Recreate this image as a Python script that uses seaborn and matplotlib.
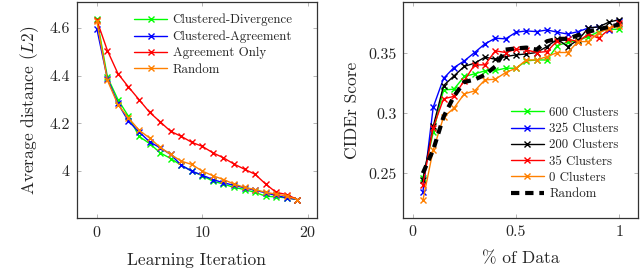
import matplotlib
matplotlib.use("Agg")
import matplotlib.pyplot as plt
import seaborn as sns
import numpy as np

# ---- left panel: average distance per learning iteration ----
iterations = list(range(20))
clustered_divergence = [4.639, 4.394, 4.299, 4.229, 4.145, 4.115, 4.076, 4.052, 4.024, 3.999,
                        3.980, 3.957, 3.945, 3.931, 3.922, 3.910, 3.894, 3.891, 3.887, 3.880]
clustered_agreement = [4.596, 4.387, 4.283, 4.208, 4.164, 4.122, 4.097, 4.069, 4.024, 3.999,
                       3.982, 3.964, 3.950, 3.940, 3.929, 3.919, 3.908, 3.897, 3.887, 3.880]
agreement_only = [4.632, 4.505, 4.408, 4.352, 4.299, 4.246, 4.206, 4.166, 4.145, 4.120,
                  4.103, 4.076, 4.055, 4.029, 4.007, 3.986, 3.945, 3.910, 3.901, 3.880]
random_left = [4.628, 4.380, 4.278, 4.222, 4.171, 4.138, 4.099, 4.069, 4.041, 4.027,
               3.999, 3.980, 3.964, 3.945, 3.931, 3.922, 3.910, 3.903, 3.894, 3.880]

# ---- right panel: CIDEr vs fraction of data ----
data_frac = [0.05, 0.10, 0.15, 0.20, 0.25, 0.30, 0.35, 0.40, 0.45, 0.50,
             0.55, 0.60, 0.65, 0.70, 0.75, 0.80, 0.85, 0.90, 0.95, 1.00]
clusters_600 = [0.2458, 0.2839, 0.3194, 0.3200, 0.3306, 0.3328, 0.3353, 0.3356, 0.3375, 0.3375,
                0.3436, 0.3444, 0.3444, 0.3564, 0.3592, 0.3606, 0.3639, 0.3680, 0.3700, 0.3700]
clusters_325 = [0.2339, 0.3050, 0.3290, 0.3380, 0.3436, 0.3506, 0.3578, 0.3625, 0.3620, 0.3675,
                0.3686, 0.3680, 0.3694, 0.3675, 0.3660, 0.3680, 0.3710, 0.3720, 0.3690, 0.3770]
clusters_200 = [0.2444, 0.2890, 0.3230, 0.3310, 0.3390, 0.3417, 0.3467, 0.3450, 0.3472, 0.3486,
                0.3494, 0.3506, 0.3556, 0.3617, 0.3556, 0.3610, 0.3710, 0.3720, 0.3760, 0.3780]
clusters_35 = [0.2403, 0.2880, 0.3120, 0.3140, 0.3272, 0.3403, 0.3403, 0.3520, 0.3506, 0.3533,
               0.3528, 0.3506, 0.3514, 0.3606, 0.3617, 0.3597, 0.3660, 0.3625, 0.3700, 0.3756]
clusters_0 = [0.2272, 0.2694, 0.2967, 0.3042, 0.3161, 0.3186, 0.3278, 0.3283, 0.3339, 0.3375,
              0.3444, 0.3444, 0.3472, 0.3506, 0.3506, 0.3597, 0.3597, 0.3672, 0.3708, 0.3728]
random_right = [0.2500, 0.2694, 0.2970, 0.3140, 0.3260, 0.3280, 0.3320, 0.3390, 0.3530, 0.3540,
                0.3547, 0.3530, 0.3600, 0.3620, 0.3620, 0.3650, 0.3680, 0.3700, 0.3720, 0.3740]

sns.set_style("ticks")
plt.rcParams["font.family"] = ["cmr10", "DejaVu Serif"]
plt.rcParams["mathtext.fontset"] = "cm"
plt.rcParams["axes.formatter.use_mathtext"] = True

fig = plt.figure(figsize=(6.4, 2.7), dpi=100)
ax1 = fig.add_axes([0.120, 0.193, 0.375, 0.800])
ax2 = fig.add_axes([0.630, 0.193, 0.367, 0.800])


def draw(ax, x, y, col, name):
    # seaborn gives markers a white edge by default; pgfplots crosses are solid
    sns.lineplot(x=x, y=y, ax=ax, color=col, label=name, marker="x",
                 markersize=4.5, markeredgewidth=1.0, markeredgecolor=col,
                 linewidth=1.0)


left_series = [
    ("Clustered-Divergence", clustered_divergence, "#00ff00"),
    ("Clustered-Agreement", clustered_agreement, "#0000ff"),
    ("Agreement Only", agreement_only, "#ff0000"),
    ("Random", random_left, "#ff8000"),
]
for name, vals, col in left_series:
    draw(ax1, iterations, vals, col, name)

right_series = [
    ("600 Clusters", clusters_600, "#00ff00"),
    ("325 Clusters", clusters_325, "#0000ff"),
    ("200 Clusters", clusters_200, "#000000"),
    ("35 Clusters", clusters_35, "#ff0000"),
    ("0 Clusters", clusters_0, "#ff8000"),
]
for name, vals, col in right_series:
    draw(ax2, data_frac, vals, col, name)
sns.lineplot(x=data_frac, y=random_right, ax=ax2, color="black", label="Random",
             linewidth=3.0, linestyle=(0, (2.0, 1.4)))

ax1.set_xlim(-1.9, 20.85)
ax1.set_ylim(3.803, 4.709)
ax1.set_xticks([0, 10, 20])
ax1.set_yticks([4.0, 4.2, 4.4, 4.6])
ax1.set_yticklabels(["4", "4.2", "4.4", "4.6"])
ax1.set_xlabel("Learning Iteration", fontsize=12.5, labelpad=9)
ax1.set_ylabel("Average distance ($L2$)", fontsize=12.5, labelpad=6)

ax2.set_xlim(-0.045, 1.09)
ax2.set_ylim(0.2127, 0.3928)
ax2.set_xticks([0, 0.5, 1])
ax2.set_xticklabels(["0", "0.5", "1"])
ax2.set_yticks([0.25, 0.30, 0.35])
ax2.set_yticklabels(["0.25", "0.3", "0.35"])
ax2.set_xlabel("% of Data", fontsize=12.5, labelpad=9)
ax2.set_ylabel("CIDEr Score", fontsize=12.5, labelpad=6)

for ax in (ax1, ax2):
    ax.tick_params(direction="in", length=3, width=0.6, color="#aaaaaa",
                   top=True, right=True, labelsize=11.5, pad=5)
    for sp in ax.spines.values():
        sp.set_visible(True)
        sp.set_linewidth(0.9)
        sp.set_color("#333333")

leg_kw = dict(frameon=False, fontsize=9.3, handlelength=2.5, handletextpad=0.45,
              labelspacing=0.32, borderpad=0, borderaxespad=0, loc="upper left")
ax1.legend(bbox_to_anchor=(0.24, 0.945), **leg_kw)
ax2.legend(bbox_to_anchor=(0.46, 0.515), **leg_kw)

fig.savefig("out.png", dpi=100)
